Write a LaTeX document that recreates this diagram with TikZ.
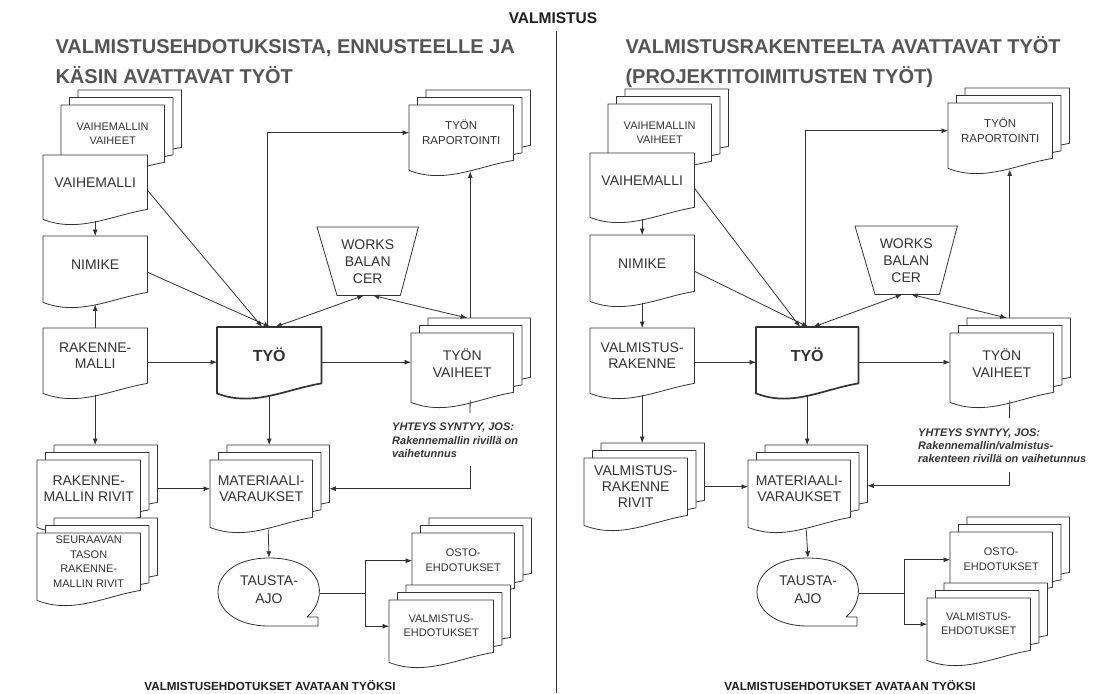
\documentclass[tikz,border=0pt]{standalone}
\usepackage{fontspec}
\setmainfont{Liberation Sans}
\usetikzlibrary{calc,arrows.meta}
\pgfdeclarelayer{bg}
\pgfsetlayers{bg,main}

\definecolor{ink}{HTML}{333333}
\definecolor{headgray}{HTML}{555555}
\definecolor{titleink}{HTML}{1E1E1E}

\newcommand\fsz[2]{\fontsize{#1}{#2}\selectfont}

% document sheet with wavy bottom, optionally shifted by (#3,#4)
\newcommand\docshape[4][]{%
  \filldraw[outline,#1] ($(#2.north west)+(#3,#4)$) -- ($(#2.north east)+(#3,#4)$)
    -- ($(#2.south east)+(#3,#4)$)
    .. controls ($(#2.south east)+(#3-36,#4+6)$) and ($(#2.south west)+(#3+36,#4+24)$)
    .. ($(#2.south west)+(#3,#4+10)$) -- cycle;}
% stack of three sheets
\newcommand\multidoc[1]{\docshape{#1}{17}{-15}\docshape{#1}{8.5}{-7.5}\docshape{#1}{0}{0}}
% manual operation trapezium
\newcommand\trapshape[1]{%
  \filldraw[outline] (#1.north west) -- (#1.north east) -- ($(#1.south east)+(-18,0)$)
    -- ($(#1.south west)+(20,0)$) -- cycle;}
% rounded background-job symbol with a small tab
\newcommand\jobshape[1]{%
  \filldraw[outline] ($(#1.center)+(49,36)$) -- ($(#1.center)+(49,27)$) -- ($(#1.center)+(38,27)$)
    .. controls ($(#1.center)+(60,8)$) and ($(#1.center)+(56,-32)$) .. ($(#1.center)+(0,-32)$)
    .. controls ($(#1.center)+(-68,-32)$) and ($(#1.center)+(-68,36)$) .. ($(#1.center)+(0,36)$)
    -- cycle;}

\tikzset{
  box/.style={rectangle, inner sep=0pt, minimum width=104pt, minimum height=56pt,
    anchor=north west, align=center, text=ink, font=\fsz{14}{15.5}},
  small/.style={font=\fsz{11}{14}},
  outline/.style={draw=ink, line width=0.8pt, fill=white, line join=round},
  tip/.style={-{Latex[length=6.5pt,width=5pt]}},
  arr/.style={draw=ink, line width=0.8pt, tip},
  darr/.style={draw=ink, line width=0.8pt, {Latex[length=6.5pt,width=5pt]}-{Latex[length=6.5pt,width=5pt]}},
  plain/.style={draw=ink, line width=0.8pt},
  heading/.style={anchor=base west, text=headgray, font=\bfseries\fsz{20}{24}},
  footer/.style={anchor=base, text=titleink, font=\bfseries\fsz{11.7}{14}},
  note/.style={anchor=north west, align=left, text=ink, inner sep=0pt,
    font=\bfseries\itshape\fsz{11}{13.5}},
}

\begin{document}
\begin{tikzpicture}[x=1pt, y=-1pt]
\begin{pgfonlayer}{bg}
  \fill[white] (0,0) rectangle (1107,693);
\end{pgfonlayer}
\useasboundingbox (0,0) rectangle (1107,693);

% ---------- headings ----------
\node[anchor=base, text=titleink, font=\bfseries\fsz{15.5}{18}] (title) at (553,24) {VALMISTUS};
\node[heading] (L-h1) at (52,54) {VALMISTUSEHDOTUKSISTA, ENNUSTEELLE JA};
\node[heading] (L-h2) at (52,83) {KÄSIN AVATTAVAT TYÖT};
\node[heading] (R-h1) at (622,54) {VALMISTUSRAKENTEELTA AVATTAVAT TYÖT};
\node[heading] (R-h2) at (622,83) {(PROJEKTITOIMITUSTEN TYÖT)};
\coordinate (div-top) at (556,31);
\coordinate (div-bot) at (556,693);
\draw[plain] (div-top) -- (div-bot);
\node[footer] (L-foot) at (270,690) {VALMISTUSEHDOTUKSET AVATAAN TYÖKSI};
\node[footer] (R-foot) at (850,690) {VALMISTUSEHDOTUKSET AVATAAN TYÖKSI};

% ---------- left half: nodes ----------
\node[box, small, minimum width=103pt, minimum height=57pt] (L-vv) at (61,105) {VAIHEMALLIN\\VAIHEET};
\node[box, minimum height=54pt] (L-vm) at (43,155) {VAIHEMALLI};
\node[box] (L-nim) at (43,236) {NIMIKE};
\node[box, minimum height=55pt] (L-rak) at (43,328) {RAKENNE-\\MALLI};
\node[box, minimum width=103pt, minimum height=57pt] (L-riv) at (37,460) {RAKENNE-\\MALLIN RIVIT};
\node[box, small, font=\fsz{11}{14.5}, minimum width=103pt, minimum height=57pt] (L-seu) at (37,533) {SEURAAVAN\\TASON\\RAKENNE-\\MALLIN RIVIT};
\node[box, font=\bfseries\fsz{16}{18}] (L-tyo) at (217,327) {TYÖ};
\node[box, font=\fsz{14}{17}, minimum width=101pt, minimum height=68pt] (L-wb) at (317,227) {WORKS\\BALAN\\CER};
\node[box, font=\fsz{11.5}{15}, minimum height=55pt] (L-rap) at (409,105) {TYÖN\\RAPORTOINTI};
\node[box, font=\fsz{14}{17}, minimum width=102pt, minimum height=59pt] (L-tv) at (411,333) {TYÖN\\VAIHEET};
\node[box, minimum width=102pt, minimum height=57pt] (L-mat) at (210,460) {MATERIAALI-\\VARAUKSET};
\node[box, anchor=center, font=\fsz{14}{18}, minimum width=102pt, minimum height=64pt] (L-ta) at (269,590) {TAUSTA-\\AJO};
\node[box, small, font=\fsz{11}{15}, minimum width=102pt, minimum height=55pt] (L-osto) at (412,533) {OSTO-\\EHDOTUKSET};
\node[box, small, minimum height=52pt] (L-vehd) at (389,600) {VALMISTUS-\\EHDOTUKSET};
\node[note] (L-note) at (392,423) {YHTEYS SYNTYY, JOS:\\Rakennemallin rivillä on\\ vaihetunnus};

% ---------- right half: nodes ----------
\node[box, small, minimum width=103pt, minimum height=57pt] (R-vv) at (608,104) {VAIHEMALLIN\\VAIHEET};
\node[box, minimum height=54pt] (R-vm) at (590,153) {VAIHEMALLI};
\node[box] (R-nim) at (590,235) {NIMIKE};
\node[box, minimum height=55pt] (R-vr) at (590,328) {VALMISTUS-\\RAKENNE};
\node[box, font=\fsz{14}{16}, minimum width=103pt, minimum height=57pt] (R-riv) at (584,458) {VALMISTUS-\\RAKENNE\\RIVIT};
\node[box, font=\bfseries\fsz{16}{18}, minimum width=102pt] (R-tyo) at (756,327) {TYÖ};
\node[box, font=\fsz{14}{17}, minimum width=102pt, minimum height=68pt] (R-wb) at (855,226) {WORKS\\BALAN\\CER};
\node[box, font=\fsz{11.5}{15}, minimum height=55pt] (R-rap) at (948,103) {TYÖN\\RAPORTOINTI};
\node[box, font=\fsz{14}{17}, minimum width=103pt, minimum height=59pt] (R-tv) at (950,333) {TYÖN\\VAIHEET};
\node[box, minimum width=102pt, minimum height=57pt] (R-mat) at (748,460) {MATERIAALI-\\VARAUKSET};
\node[box, anchor=center, font=\fsz{14}{18}, minimum width=102pt, minimum height=64pt] (R-ta) at (808,590) {TAUSTA-\\AJO};
\node[box, small, font=\fsz{11}{15}, minimum width=102pt, minimum height=55pt] (R-osto) at (950,532) {OSTO-\\EHDOTUKSET};
\node[box, small, minimum width=103pt, minimum height=52pt] (R-vehd) at (927,598) {VALMISTUS-\\EHDOTUKSET};
\node[note, font=\bfseries\itshape\fsz{11}{13}] (R-note) at (918,429) {YHTEYS SYNTYY, JOS:\\Rakennemallin/valmistus-\\rakenteen rivillä on vaihetunnus};

% ---------- outlines, back to front ----------
\begin{pgfonlayer}{bg}
  \multidoc{L-vv}   \docshape{L-vm}{0}{0}  \docshape{L-nim}{0}{0}  \docshape{L-rak}{0}{0}
  \multidoc{L-riv}  \multidoc{L-seu}
  \docshape[line width=1.7pt]{L-tyo}{0}{0}
  \trapshape{L-wb}  \multidoc{L-rap}  \multidoc{L-tv}  \multidoc{L-mat}
  \jobshape{L-ta}   \multidoc{L-osto} \multidoc{L-vehd}
  \multidoc{R-vv}   \docshape{R-vm}{0}{0}  \docshape{R-nim}{0}{0}  \docshape{R-vr}{0}{0}
  \multidoc{R-riv}
  \docshape[line width=1.7pt]{R-tyo}{0}{0}
  \trapshape{R-wb}  \multidoc{R-rap}  \multidoc{R-tv}  \multidoc{R-mat}
  \jobshape{R-ta}   \multidoc{R-osto} \multidoc{R-vehd}
\end{pgfonlayer}

% ---------- left half: connectors ----------
\draw[arr] ($(L-vm.south)+(0,12)$) -- (L-nim.north);
\draw[arr] (L-rak.north) -- ($(L-nim.south)+(0,12)$);
\draw[arr] ($(L-rak.east)+(0,6.5)$) -- ($(L-rak.east -| L-tyo.west)+(0,6.5)$);
\draw[arr] ($(L-rak.south)+(0,12)$) -- ($(L-rak.south |- L-riv.north)+(0,-15)$);
\draw[arr] ($(L-riv.east)+(17,0)$) -- (L-mat.west);
\draw[arr] ($(L-vm.east)+(0,8)$) -- ($(L-tyo.north)+(-7,0)$);
\draw[arr] ($(L-nim.east)+(0,8)$) -- ($(L-tyo.north)+(1,0)$);
\draw[arr] ($(L-tyo.north)+(-2,0)$) |- (L-rap.west);
\draw[darr] ($(L-wb.south)+(-4,0)$) -- ($(L-tyo.north)+(6,0)$);
\draw[darr] ($(L-wb.south)+(5,0)$) -- ($(L-tv.north)+(5,-15)$);
\draw[arr] ($(L-tv.north)+(8,-15)$) -- ($(L-tv.north |- L-rap.south)+(8,11)$);
\draw[arr] ($(L-tyo.east)+(0,7)$) -- ($(L-tyo.east -| L-tv.west)+(0,7)$);
\draw[arr] ($(L-tyo.south)+(0,12)$) -- ($(L-tyo.south |- L-mat.north)+(0,-15)$);
\coordinate (L-k1) at (470,413);
\coordinate (L-k2) at (470,466);
\draw[plain] ($(L-tv.south)+(8,8)$) -- (L-k1);
\draw[arr] (L-k2) |- ($(L-mat.east)+(17,0)$);
\draw[arr] ($(L-mat.south)+(7,12)$) -- (L-ta.north);
\coordinate (L-fork) at (365,593);
\draw[plain] ($(L-ta.east)+(0,3)$) -- (L-fork);
\draw[arr] (L-fork) |- (L-osto.west);
\draw[arr] (L-fork) |- (L-vehd.west);

% ---------- right half: connectors ----------
\draw[arr] ($(R-vm.south)+(0,12)$) -- (R-nim.north);
\draw[arr] ($(R-nim.south)+(0,12)$) -- (R-vr.north);
\draw[arr] ($(R-vr.east)+(0,6.5)$) -- ($(R-vr.east -| R-tyo.west)+(0,6.5)$);
\draw[arr] ($(R-vr.south)+(0,12)$) -- ($(R-vr.south |- R-riv.north)+(0,-15)$);
\draw[arr] ($(R-riv.east)+(17,0)$) -- (R-riv.east -| R-mat.west);
\draw[arr] ($(R-vm.east)+(0,8)$) -- ($(R-tyo.north)+(-7,0)$);
\draw[arr] ($(R-nim.east)+(0,8)$) -- ($(R-tyo.north)+(1,0)$);
\draw[arr] ($(R-tyo.north)+(-2,0)$) |- (R-rap.west);
\draw[darr] ($(R-wb.south)+(-4,0)$) -- ($(R-tyo.north)+(6,0)$);
\draw[darr] ($(R-wb.south)+(5,0)$) -- ($(R-tv.north)+(5,-15)$);
\draw[arr] ($(R-tv.north)+(8,-15)$) -- ($(R-tv.north |- R-rap.south)+(8,11)$);
\draw[arr] ($(R-tyo.east)+(0,7)$) -- ($(R-tyo.east -| R-tv.west)+(0,7)$);
\draw[arr] ($(R-tyo.south)+(0,12)$) -- ($(R-tyo.south |- R-mat.north)+(0,-15)$);
\coordinate (R-k1) at (1009.5,418);
\coordinate (R-k2) at (1009.5,472);
\draw[plain] ($(R-tv.south)+(8,8)$) -- (R-k1);
\draw[arr] (R-k2) |- ($(R-mat.east)+(17,-3)$);
\draw[arr] ($(R-mat.south)+(7,12)$) -- (R-ta.north);
\coordinate (R-fork) at (904,593);
\draw[plain] ($(R-ta.east)+(0,3)$) -- (R-fork);
\draw[arr] (R-fork) |- (R-osto.west);
\draw[arr] (R-fork) |- (R-vehd.west);
\end{tikzpicture}
\end{document}
